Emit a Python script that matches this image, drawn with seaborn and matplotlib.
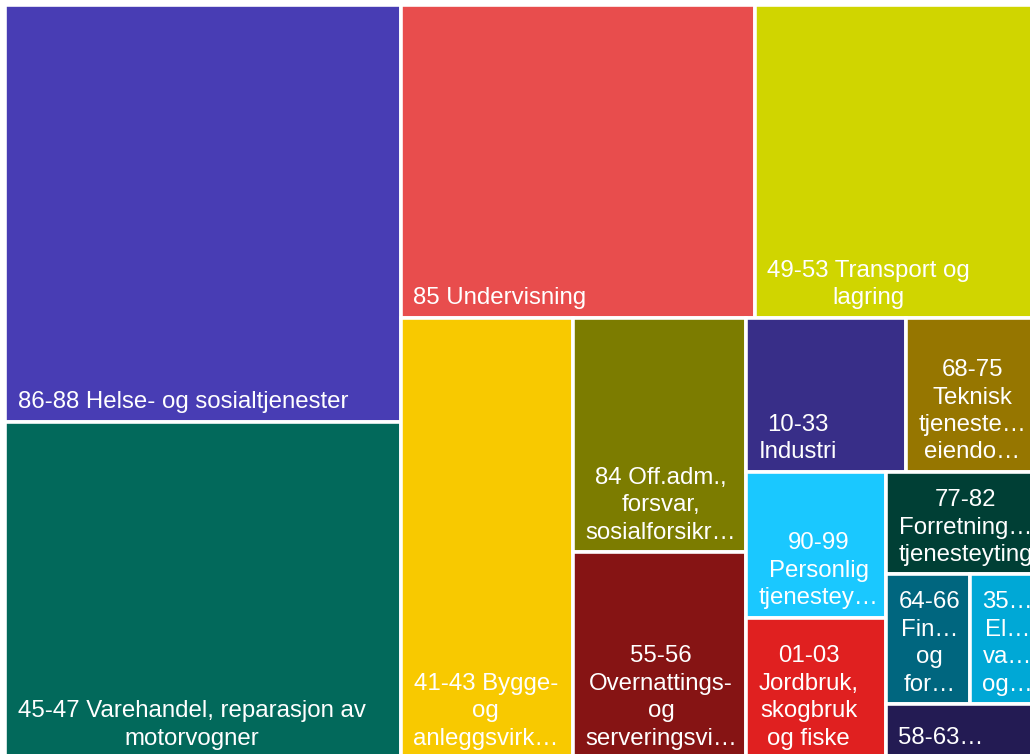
import matplotlib
matplotlib.use("Agg")
import matplotlib.pyplot as plt
import seaborn as sns
from matplotlib.patches import Rectangle

# Industry groups (NACE codes), in the order they are laid out
labels = [
    "86-88 Helse- og sosialtjenester",
    "45-47 Varehandel, reparasjon av\nmotorvogner",
    "85 Undervisning",
    "49-53 Transport og\nlagring",
    "41-43 Bygge-\nog\nanleggsvirk…",
    "84 Off.adm.,\nforsvar,\nsosialforsikr…",
    "55-56\nOvernattings-\nog\nserveringsvi…",
    "10-33\nIndustri",
    "68-75\nTeknisk\ntjeneste…\neiendo…",
    "90-99\nPersonlig\ntjenestey…",
    "01-03\nJordbruk,\nskogbruk\nog fiske",
    "77-82\nForretning…\ntjenesteyting",
    "64-66\nFin…\nog\nfor…",
    "35…\nEl…\nva…\nog…",
    "58-63…",
]
values = [1651, 1329, 1108, 906, 758, 407, 357, 247, 213, 204, 196, 162, 109, 96, 85]
colors = ["#483DB4", "#02695B", "#E84D4D", "#D0D500", "#F8C900", "#7C7C00", "#861414",
          "#382E88", "#967600", "#1AC8FF", "#E02020", "#003F35", "#00667F", "#00A8D6", "#231B53"]

# how many cells go into each strip of the layout
strips = [2, 2, 1, 2, 2, 2, 1, 2, 1]


def strip_layout(vals, groups, x, y, w, h):
    # each strip runs along the shorter side of the space that is left
    scale = w * h / sum(vals)
    rects = []
    i = 0
    for n in groups:
        chunk = vals[i:i + n]
        area = sum(chunk) * scale
        if w >= h:
            t = area / h
            yy = y
            for v in chunk:
                hh = v * scale / t
                rects.append((x, yy, t, hh))
                yy += hh
            x += t
            w -= t
        else:
            t = area / w
            xx = x
            for v in chunk:
                ww = v * scale / t
                rects.append((xx, y, ww, t))
                xx += ww
            y += t
            h -= t
        i += n
    return rects


sns.set_theme(style="white")
plt.rcParams["font.family"] = ["Liberation Sans", "DejaVu Sans"]
palette = sns.color_palette(colors)

fig = plt.figure(figsize=(10.30, 7.54), dpi=100)
ax = fig.add_axes([0, 0, 1, 1])
ax.set_xlim(0, 1030)
ax.set_ylim(754, 0)
ax.axis("off")

rects = strip_layout(values, strips, 5, 4.5, 1039, 753.5)
for (x, y, w, h), lab, col in zip(rects, labels, palette):
    ax.add_patch(Rectangle((x, y), w, h, facecolor=col, edgecolor="white", linewidth=2.6))
    ax.text(x + 12.5, y + h - 8.5, lab, ha="left", va="bottom", multialignment="center",
            color="white", fontsize=17.3, linespacing=1.32)

fig.savefig("out.png", dpi=100, facecolor="white")
